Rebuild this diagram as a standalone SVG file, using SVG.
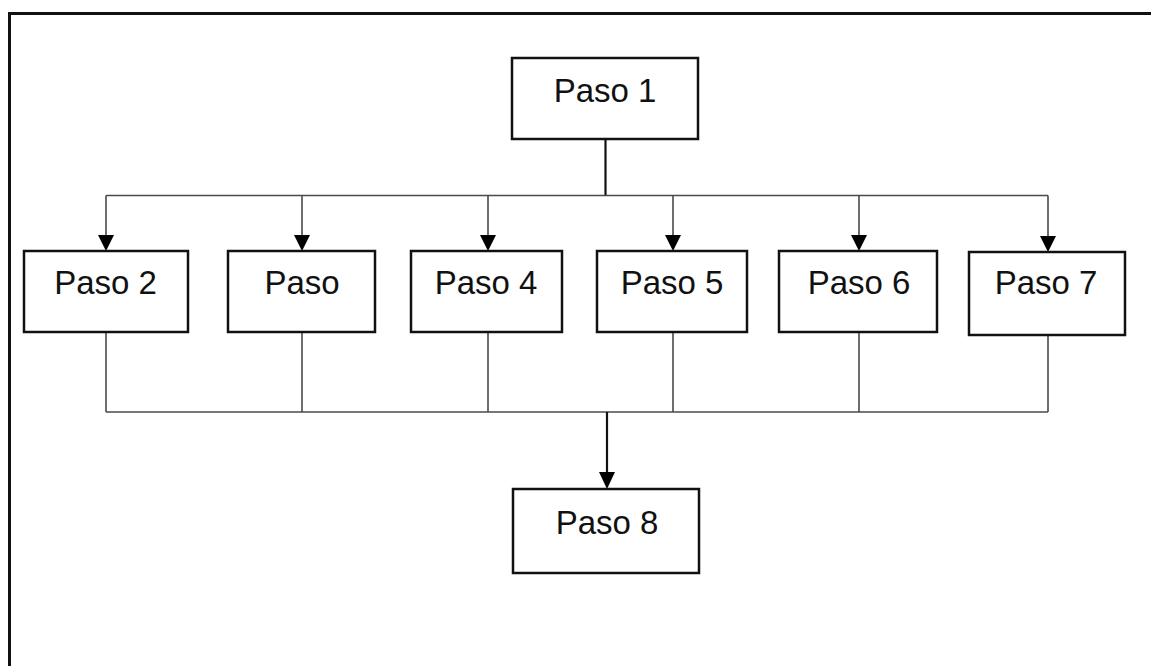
<svg xmlns="http://www.w3.org/2000/svg" width="1151" height="666" viewBox="0 0 1151 666">
  <defs>
    <style>
      .box { fill: #ffffff; stroke: #111111; stroke-width: 2.5; }
      .lbl { font-family: "Liberation Sans", Arial, sans-serif; font-size: 33px; fill: #111111; text-anchor: middle; }
      .wire { fill: none; stroke: #4a4a4a; stroke-width: 1.6; }
      .main { fill: none; stroke: #111111; stroke-width: 2.2; }
      .head { fill: #000000; }
    </style>
  </defs>
  <rect x="0" y="0" width="1151" height="666" fill="#ffffff"/>
  <!-- outer frame, running off the right and bottom edges -->
  <rect x="9.5" y="13.5" width="1160" height="680" fill="none" stroke="#111111" stroke-width="3"/>

  <g id="connectors">
    <!-- fan-out from Paso 1 -->
    <path class="main" d="M605.5 139 V195.5"/>
    <path class="wire" d="M106 195.5 H1048"/>
    <path class="wire" d="M106 195.5 V236 M302 195.5 V236 M488 195.5 V236 M673 195.5 V236 M859 195.5 V236 M1048 195.5 V237"/>
    <polygon class="head" points="98,235 114,235 106,251"/>
    <polygon class="head" points="294,235 310,235 302,251"/>
    <polygon class="head" points="480,235 496,235 488,251"/>
    <polygon class="head" points="665,235 681,235 673,251"/>
    <polygon class="head" points="851,235 867,235 859,251"/>
    <polygon class="head" points="1040,236 1056,236 1048,252"/>
    <!-- fan-in to Paso 8 -->
    <path class="wire" d="M106 332 V412 M302 332 V412 M488 332 V412 M673 332 V412 M859 332 V412 M1048 335 V412"/>
    <path class="wire" d="M106 412 H1048"/>
    <path class="main" d="M607 412 V474"/>
    <polygon class="head" points="599,472 615,472 607,489"/>
  </g>

  <g id="paso1">
    <rect class="box" x="512" y="58" width="186" height="81"/>
    <text class="lbl" x="605" y="101.5">Paso 1</text>
  </g>
  <g id="paso2">
    <rect class="box" x="24" y="251" width="164" height="81"/>
    <text class="lbl" x="105.5" y="293.5">Paso 2</text>
  </g>
  <g id="paso3">
    <rect class="box" x="228" y="251" width="147" height="81"/>
    <text class="lbl" x="302" y="293.5">Paso</text>
  </g>
  <g id="paso4">
    <rect class="box" x="411" y="251" width="151" height="81"/>
    <text class="lbl" x="486" y="293.5">Paso 4</text>
  </g>
  <g id="paso5">
    <rect class="box" x="597" y="251" width="150" height="81"/>
    <text class="lbl" x="672" y="293.5">Paso 5</text>
  </g>
  <g id="paso6">
    <rect class="box" x="779" y="251" width="158" height="81"/>
    <text class="lbl" x="859" y="293.5">Paso 6</text>
  </g>
  <g id="paso7">
    <rect class="box" x="969" y="252" width="156" height="83"/>
    <text class="lbl" x="1046" y="294">Paso 7</text>
  </g>
  <g id="paso8">
    <rect class="box" x="513" y="489" width="186" height="84"/>
    <text class="lbl" x="607" y="533.5">Paso 8</text>
  </g>
</svg>
